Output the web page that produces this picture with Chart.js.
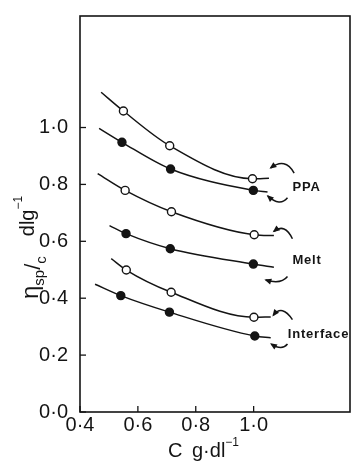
<!DOCTYPE html>
<html><head><meta charset="utf-8">
<script src="https://cdn.jsdelivr.net/npm/chart.js@4/dist/chart.umd.min.js"></script>
<style>html,body{margin:0;padding:0;background:#fff}canvas{display:block}</style>
</head><body><canvas id="c" width="351" height="461"></canvas>
<script>
// ---- data ----
const xTicks = [0.4, 0.6, 0.8, 1.0];
const yTicks = [0.0, 0.2, 0.4, 0.6, 0.8, 1.0];
const groupLabels = ['PPA', 'Melt', 'Interface'];

// each curve: first and last entries are the ends of the drawn curve, middle three are measured points
const ppaOpenX     = [0.473, 0.550, 0.710, 0.996, 1.053];
const ppaOpenY     = [1.124, 1.058, 0.936, 0.820, 0.822];
const ppaFilledX   = [0.466, 0.545, 0.713, 0.999, 1.048];
const ppaFilledY   = [0.997, 0.948, 0.854, 0.779, 0.773];
const meltOpenX    = [0.461, 0.556, 0.716, 1.002, 1.070];
const meltOpenY    = [0.838, 0.779, 0.704, 0.623, 0.620];
const meltFilledX  = [0.502, 0.559, 0.712, 0.999, 1.070];
const meltFilledY  = [0.655, 0.627, 0.574, 0.520, 0.509];
const intOpenX     = [0.508, 0.560, 0.715, 1.001, 1.059];
const intOpenY     = [0.539, 0.499, 0.421, 0.333, 0.334];
const intFilledX   = [0.452, 0.541, 0.709, 1.004, 1.059];
const intFilledY   = [0.449, 0.409, 0.351, 0.267, 0.261];

// annotation anchors (data units)
const labelPos = [[1.134, 0.791], [1.134, 0.534], [1.118, 0.273]];
// curved arrows: tail, control, head (data units)
const arrowDefs = [
  [1.140, 0.840, 1.109, 0.896, 1.059, 0.858],
  [1.117, 0.753, 1.091, 0.721, 1.049, 0.759],
  [1.134, 0.609, 1.108, 0.665, 1.070, 0.635],
  [1.117, 0.476, 1.094, 0.447, 1.042, 0.464],
  [1.134, 0.325, 1.098, 0.380, 1.068, 0.340],
  [1.117, 0.239, 1.098, 0.215, 1.061, 0.239]
];

const INK = '#141414';
const TICK_FONT = '"Liberation Sans Narrow","Liberation Sans",Arial,sans-serif';
const fmt = v => Number(v).toFixed(1).replace('.', '·');

function series(xs, ys, filled) {
  return {
    data: xs.map((x, i) => ({x: x, y: ys[i]})),
    showLine: true,
    borderColor: INK,
    borderWidth: 1.5,
    cubicInterpolationMode: 'monotone',
    pointRadius: xs.map((_, i) => (i === 0 || i === xs.length - 1) ? 0 : 4),
    pointBackgroundColor: filled ? INK : '#fff',
    pointBorderColor: INK,
    pointBorderWidth: 1.4,
    fill: false
  };
}

const decor = {
  id: 'decor',
  afterDatasetsDraw(chart) {
    const {ctx, chartArea: a, scales: {x, y}} = chart;
    ctx.save();
    // frame
    ctx.strokeStyle = INK;
    ctx.lineWidth = 1.6;
    ctx.strokeRect(a.left, a.top, a.right - a.left, a.bottom - a.top);
    // inward ticks
    ctx.lineWidth = 1.3;
    yTicks.forEach(v => {
      const py = y.getPixelForValue(v);
      ctx.beginPath(); ctx.moveTo(a.left, py); ctx.lineTo(a.left + 6, py); ctx.stroke();
    });
    xTicks.forEach(v => {
      const px = x.getPixelForValue(v);
      ctx.beginPath(); ctx.moveTo(px, a.bottom); ctx.lineTo(px, a.bottom - 6); ctx.stroke();
    });
    // arrows
    ctx.lineWidth = 1.5;
    ctx.fillStyle = INK;
    arrowDefs.forEach(d => {
      const tx = x.getPixelForValue(d[0]), ty = y.getPixelForValue(d[1]);
      const cx = x.getPixelForValue(d[2]), cy = y.getPixelForValue(d[3]);
      const hx = x.getPixelForValue(d[4]), hy = y.getPixelForValue(d[5]);
      ctx.beginPath(); ctx.moveTo(tx, ty); ctx.quadraticCurveTo(cx, cy, hx, hy); ctx.stroke();
      let dx = hx - cx, dy = hy - cy; const L = Math.hypot(dx, dy); dx /= L; dy /= L;
      const len = 5.5, w = 3;
      ctx.beginPath();
      ctx.moveTo(hx + dx * 1.5, hy + dy * 1.5);
      ctx.lineTo(hx - dx * len - dy * w, hy - dy * len + dx * w);
      ctx.lineTo(hx - dx * len + dy * w, hy - dy * len - dx * w);
      ctx.closePath(); ctx.fill();
    });
    // group labels
    ctx.font = 'bold 13px "Liberation Sans", Arial, sans-serif';
    try { ctx.letterSpacing = '0.8px'; } catch (e) {}
    ctx.textAlign = 'left'; ctx.textBaseline = 'middle';
    groupLabels.forEach((t, i) => {
      ctx.fillText(t, x.getPixelForValue(labelPos[i][0]), y.getPixelForValue(labelPos[i][1]));
    });
    try { ctx.letterSpacing = '0px'; } catch (e) {}
    ctx.restore();
  },
  afterDraw(chart) {
    const {ctx, chartArea: a} = chart;
    ctx.save();
    ctx.fillStyle = INK;
    ctx.textBaseline = 'alphabetic';
    // x-axis title  "C  g·dl⁻¹"
    ctx.font = '20px ' + TICK_FONT;
    ctx.textAlign = 'left';
    const bx = a.left + 88, by = a.bottom + 45;
    ctx.fillText('C', bx, by);
    ctx.fillText('g·dl', bx + 24, by);
    const wdl = ctx.measureText('g·dl').width;
    ctx.font = '12px ' + TICK_FONT;
    ctx.fillText('−1', bx + 24 + wdl, by - 11);
    // y-axis title  "ηsp/c   dl g⁻¹" rotated
    ctx.translate(a.left - 42, a.top + 283);
    ctx.rotate(-Math.PI / 2);
    let cx0 = 0;
    ctx.font = '24px ' + TICK_FONT;
    ctx.fillText('η', cx0, 0); cx0 += ctx.measureText('η').width;
    ctx.font = '15px ' + TICK_FONT;
    ctx.fillText('sp', cx0, 6); cx0 += ctx.measureText('sp').width;
    ctx.font = '22px ' + TICK_FONT;
    ctx.fillText('/', cx0, 2); cx0 += ctx.measureText('/').width;
    ctx.font = '15px ' + TICK_FONT;
    ctx.fillText('c', cx0, 8); cx0 += ctx.measureText('c').width + 20;
    ctx.font = '20px ' + TICK_FONT;
    ctx.fillText('dlg', cx0, -4); cx0 += ctx.measureText('dlg').width;
    ctx.font = '12px ' + TICK_FONT;
    ctx.fillText('−1', cx0, -16);
    ctx.restore();
  }
};

new Chart(document.getElementById('c'), {
  type: 'scatter',
  data: {
    datasets: [
      series(ppaOpenX, ppaOpenY, false),
      series(ppaFilledX, ppaFilledY, true),
      series(meltOpenX, meltOpenY, false),
      series(meltFilledX, meltFilledY, true),
      series(intOpenX, intOpenY, false),
      series(intFilledX, intFilledY, true)
    ]
  },
  options: {
    responsive: false,
    animation: false,
    devicePixelRatio: 1,
    layout: {padding: {top: 11, right: 1, left: 0, bottom: 0}},
    plugins: {legend: {display: false}, tooltip: {enabled: false}},
    scales: {
      x: {
        type: 'linear', min: 0.4, max: 1.333,
        afterBuildTicks: s => { s.ticks = xTicks.map(v => ({value: v})); },
        afterFit: s => { s.height = 49; },
        grid: {display: false}, border: {display: false},
        ticks: {callback: v => fmt(v), color: INK, font: {family: TICK_FONT, size: 20}, padding: -7, maxRotation: 0, autoSkip: false}
      },
      y: {
        type: 'linear', min: 0, max: 1.392,
        afterBuildTicks: s => { s.ticks = yTicks.map(v => ({value: v})); },
        afterFit: s => { s.width = 80; },
        grid: {display: false}, border: {display: false},
        ticks: {callback: v => fmt(v), color: INK, font: {family: TICK_FONT, size: 20}, padding: 4, autoSkip: false}
      }
    }
  },
  plugins: [decor]
});
</script>
</body></html>
